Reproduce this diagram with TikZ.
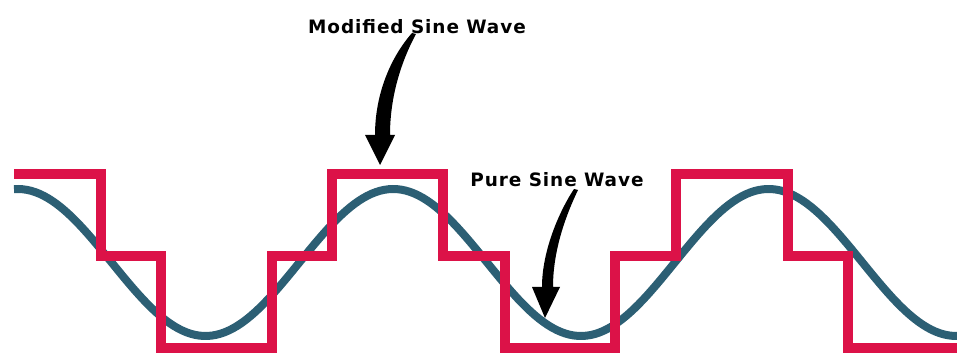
\documentclass[tikz,border=0pt]{standalone}
\usepackage{fontspec}
\usetikzlibrary{calc}
\newfontfamily\labelFont[LetterSpace=5]{DejaVu Sans}
\definecolor{waveRed}{HTML}{DC1248}
\definecolor{waveTeal}{HTML}{2C5F74}

\begin{document}
\begin{tikzpicture}[
    x=0.02cm, y=-0.02cm,
    sineLine/.style={draw=waveTeal, line width=0.16cm},
    stepLine/.style={draw=waveRed, line width=0.2cm, line join=miter},
    waveLabel/.style={font=\labelFont\bfseries\fontsize{10.5}{12}\selectfont, inner sep=0pt},
    pointer/.style={fill=black},
]
\useasboundingbox (0,0) rectangle (957,354);

% pure sine (period about 375px)
\draw[sineLine] plot[domain=14:957, samples=220] (\x, {262.5 - 73.5*cos(0.95897*(\x-17.8))});

% modified (stepped) sine
\draw[stepLine] (14,174) -- (101,174) -- (101,256) -- (161,256) -- (161,348) -- (272,348)
    -- (272,256) -- (332,256) -- (332,174) -- (443,174) -- (443,256) -- (505,256)
    -- (505,348) -- (615,348) -- (615,256) -- (676,256) -- (676,174) -- (788,174)
    -- (788,256) -- (848,256) -- (848,348) -- (957,348);

\node[waveLabel] (modLabel) at (417,27) {Modified Sine Wave};
\node[waveLabel] (pureLabel) at (557,180) {Pure Sine Wave};

\coordinate (modTail) at (414,33);
\coordinate (modTip) at (380,165);
\coordinate (pureTail) at (576,189);
\coordinate (pureTip) at (545,318);

\fill[pointer] ($(modTail)+(-2,0)$) .. controls (390,58) and (375,95) .. (375,135)
    -- (365,135) -- (modTip) -- (395,135) -- (390,135)
    .. controls (390,95) and (402,60) .. ($(modTail)+(2,1)$) -- cycle;
\fill[pointer] ($(pureTail)+(-2,0)$) .. controls (560,210) and (542,250) .. (542,287)
    -- (532,287) -- (pureTip) -- (560,287) -- (553,287)
    .. controls (553,250) and (566,215) .. ($(pureTail)+(2,1)$) -- cycle;
\end{tikzpicture}
\end{document}
